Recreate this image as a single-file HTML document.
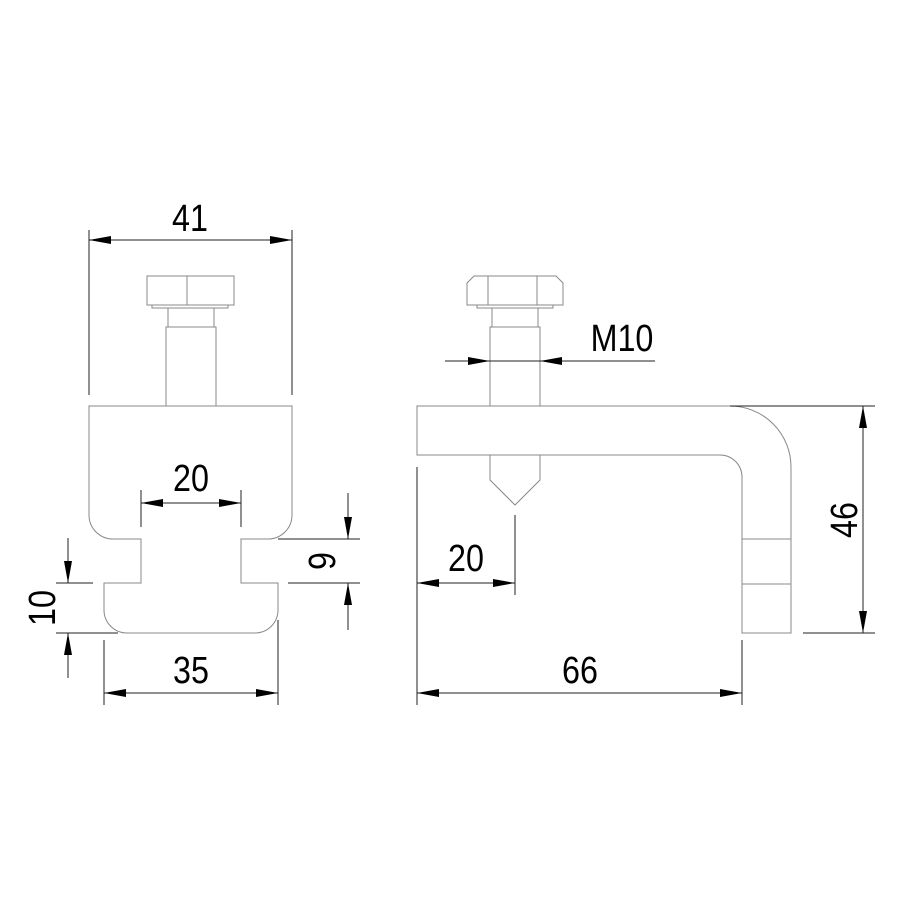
<!DOCTYPE html>
<html><head><style>html,body{margin:0;padding:0;background:#fff}svg{display:block}text{font-family:"Liberation Sans",sans-serif;font-size:38px;fill:#000}</style></head><body>
<svg width="908" height="908" viewBox="0 0 908 908" xmlns="http://www.w3.org/2000/svg">
<defs>
<marker id="a" viewBox="0 0 22 8" refX="22" refY="4" markerWidth="22" markerHeight="8" markerUnits="userSpaceOnUse" orient="auto"><path d="M0,0 L22,4 L0,8 Z" fill="#000"/></marker>
</defs>
<g fill="none" stroke="#888" stroke-width="1">
<path d="M89,406 H292 V515 A24,24 0 0 1 268,539 H241 V583 H278 V610 A23,23 0 0 1 255,633 H127 A23,23 0 0 1 104,610 V583 H141 V539 H113 A24,24 0 0 1 89,515 Z"/>
<rect x="147" y="276" width="87" height="29"/>
<line x1="187" y1="276" x2="187" y2="305"/>
<rect x="152" y="305" width="76" height="3"/>
<rect x="168" y="308" width="46" height="19"/>
<path d="M166,406 V327 H216 V406"/>
<path d="M417,406 H730 A61,61 0 0 1 791,467 V633 H742 V477 A22,22 0 0 0 720,455 H417 Z"/>
<line x1="742" y1="539" x2="791" y2="539"/>
<line x1="742" y1="584" x2="791" y2="584"/>
<path d="M467,283 L474,276 H556 L563,283 V305 H467 Z"/>
<line x1="488" y1="276" x2="488" y2="305"/>
<line x1="537" y1="276" x2="537" y2="305"/>
<rect x="477" y="305" width="76" height="3"/>
<rect x="492" y="308" width="46" height="19"/>
<path d="M490,406 V327 H540 V406"/>
<path d="M490,455 V480 L515,505 L540,480 V455"/>
</g>
<g fill="none" stroke="#222" stroke-width="1">
<line x1="89" y1="230" x2="89" y2="395"/><line x1="292" y1="230" x2="292" y2="395"/>
<line x1="190" y1="240" x2="89" y2="240" marker-end="url(#a)"/><line x1="190" y1="240" x2="292" y2="240" marker-end="url(#a)"/>
<line x1="141" y1="490" x2="141" y2="527"/><line x1="241" y1="490" x2="241" y2="527"/>
<line x1="191" y1="503" x2="141" y2="503" marker-end="url(#a)"/><line x1="191" y1="503" x2="241" y2="503" marker-end="url(#a)"/>
<line x1="278" y1="539" x2="360" y2="539"/><line x1="288" y1="583" x2="360" y2="583"/>
<line x1="348" y1="493" x2="348" y2="539" marker-end="url(#a)"/><line x1="348" y1="630" x2="348" y2="583" marker-end="url(#a)"/>
<line x1="56" y1="583" x2="93" y2="583"/><line x1="56" y1="633" x2="118" y2="633"/>
<line x1="68" y1="538" x2="68" y2="583" marker-end="url(#a)"/><line x1="68" y1="678" x2="68" y2="633" marker-end="url(#a)"/>
<line x1="104" y1="640" x2="104" y2="705"/><line x1="278" y1="620" x2="278" y2="705"/>
<line x1="191" y1="693" x2="104" y2="693" marker-end="url(#a)"/><line x1="191" y1="693" x2="278" y2="693" marker-end="url(#a)"/>
<line x1="445" y1="361" x2="490" y2="361" marker-end="url(#a)"/><line x1="655" y1="361" x2="540" y2="361" marker-end="url(#a)"/>
<line x1="490" y1="361" x2="540" y2="361"/>
<line x1="417" y1="467" x2="417" y2="705"/><line x1="515" y1="515" x2="515" y2="595"/>
<line x1="466" y1="583" x2="417" y2="583" marker-end="url(#a)"/><line x1="466" y1="583" x2="515" y2="583" marker-end="url(#a)"/>
<line x1="742" y1="640" x2="742" y2="705"/>
<line x1="580" y1="693" x2="417" y2="693" marker-end="url(#a)"/><line x1="580" y1="693" x2="742" y2="693" marker-end="url(#a)"/>
<line x1="730" y1="406" x2="875" y2="406"/><line x1="803" y1="633" x2="875" y2="633"/>
<line x1="863" y1="520" x2="863" y2="406" marker-end="url(#a)"/><line x1="863" y1="520" x2="863" y2="633" marker-end="url(#a)"/>
</g>
<g text-anchor="middle">
<text x="190" y="231" transform="translate(190 0) scale(0.85 1) translate(-190 0)">41</text>
<text x="191" y="491" transform="translate(191 0) scale(0.85 1) translate(-191 0)">20</text>
<text x="191" y="683" transform="translate(191 0) scale(0.85 1) translate(-191 0)">35</text>
<text x="466" y="571" transform="translate(466 0) scale(0.85 1) translate(-466 0)">20</text>
<text x="580" y="683" transform="translate(580 0) scale(0.85 1) translate(-580 0)">66</text>
<text x="622" y="351" transform="translate(622 0) scale(0.85 1) translate(-622 0)">M10</text>
<text transform="translate(335 561) rotate(-90) scale(0.85 1)">9</text>
<text transform="translate(55 608) rotate(-90) scale(0.85 1)">10</text>
<text transform="translate(857 520) rotate(-90) scale(0.85 1)">46</text>
</g>
</svg>
</body></html>
